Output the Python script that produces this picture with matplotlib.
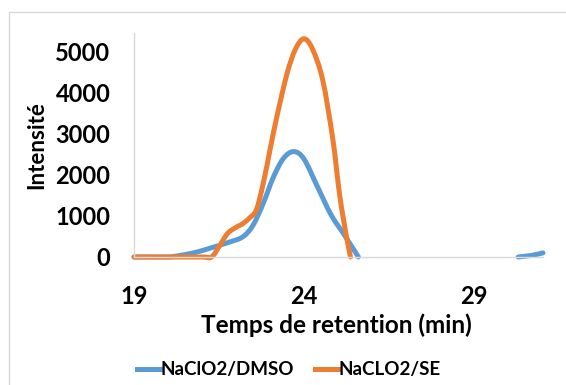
import matplotlib
matplotlib.use("Agg")
import numpy as np
from matplotlib import pyplot as plt
from matplotlib.patches import Rectangle, PathPatch
from matplotlib.path import Path
from matplotlib.lines import Line2D

# retention time (min) / intensity (nan = no data)
dmso_time = [19, 19.5, 20, 20.3, 20.8, 21.3, 21.8, 22.2, 22.5, 22.8, 23.1, 23.4,
             23.7, 24.0, 24.4, 24.8, 25.2, 25.6, 28, 30.3, 30.7, 31.03]
dmso_int = [0, 0, 0, 30, 110, 230, 360, 490, 770, 1300, 1940, 2400,
            2560, 2380, 1700, 1020, 520, 0, np.nan, 0, 40, 100]

se_time = [19, 20, 21, 21.28, 21.5, 21.75, 22.0, 22.2, 22.4, 22.6, 22.8, 23.0,
           23.2, 23.5, 23.75, 24.0, 24.25, 24.55, 24.85, 25.05, 25.25, 25.37]
se_int = [0, 0, 0, 0, 250, 570, 720, 810, 950, 1150, 1780, 2600,
          3400, 4450, 5050, 5300, 5050, 4300, 2850, 1500, 490, 0]

x_ticks = [19, 24, 29]
y_ticks = [0, 1000, 2000, 3000, 4000, 5000]


def smooth_path(ax, xs, ys):
    # Excel-like smoothed line: Catmull-Rom segments as cubic Bezier, in display space
    pts = ax.transData.transform(np.column_stack([xs, ys]))
    verts = [pts[0]]
    codes = [Path.MOVETO]
    n = len(pts)
    for i in range(n - 1):
        p0 = pts[max(i - 1, 0)]
        p1 = pts[i]
        p2 = pts[i + 1]
        p3 = pts[min(i + 2, n - 1)]
        c1 = p1 + (p2 - p0) / 6
        c2 = p2 - (p3 - p1) / 6
        verts += [c1, c2, p2]
        codes += [Path.CURVE4] * 3
    return Path(verts, codes)


def draw_series(ax, xs, ys, color):
    xs = np.asarray(xs, float)
    ys = np.asarray(ys, float)
    breaks = np.where(np.isnan(ys))[0]
    start = 0
    for b in list(breaks) + [len(ys)]:
        seg_x, seg_y = xs[start:b], ys[start:b]
        if len(seg_x) > 1:
            ax.add_patch(PathPatch(smooth_path(ax, seg_x, seg_y), transform=None, fill=False,
                                   edgecolor=color, linewidth=3.6, joinstyle='round',
                                   capstyle='round', clip_on=False))
        start = b + 1


plt.rcParams['font.family'] = ['Lato', 'DejaVu Sans']
plt.rcParams['font.weight'] = 'bold'

fig = plt.figure(figsize=(5.66, 3.85), dpi=100)
fig.patches.append(Rectangle((9 / 566, -0.1), 1.2, 1 - 12 / 385 + 0.1, transform=fig.transFigure,
                             fill=False, edgecolor='#d9d9d9', linewidth=1))
ax = fig.add_axes([134 / 566, 1 - 257 / 385, (543 - 134) / 566, (257 - 33) / 385])

ax.set_xlim(19, 31.03)
ax.set_ylim(0, 5440)
ax.set_xticks(x_ticks)
ax.set_yticks(y_ticks)
ax.tick_params(length=0, labelsize=17, pad=17)
ax.tick_params(axis='x', pad=20)
for lab in ax.get_xticklabels() + ax.get_yticklabels():
    lab.set_fontweight('bold')

for s in ['top', 'right']:
    ax.spines[s].set_visible(False)
for s in ['left', 'bottom']:
    ax.spines[s].set_color('#d9d9d9')
    ax.spines[s].set_linewidth(1)

draw_series(ax, dmso_time, dmso_int, '#5B9BD5')
draw_series(ax, se_time, se_int, '#ED7D31')

ax.set_xlabel('Temps de retention (min)', fontsize=17.5, fontweight='bold')
ax.set_ylabel('Intensité', fontsize=16, fontweight='bold')
ax.xaxis.set_label_coords(0.496, -0.25)
ax.yaxis.set_label_coords(-0.213, 0.5)

handles = [Line2D([], [], color='#5B9BD5', linewidth=3.6),
           Line2D([], [], color='#ED7D31', linewidth=3.6)]
ax.legend(handles, ['NaClO2/DMSO', 'NaCLO2/SE'], loc='center',
          bbox_to_anchor=(289 / 566, 1 - 370 / 385), bbox_transform=fig.transFigure,
          ncol=2, frameon=False, prop={'weight': 'bold', 'size': 13.5},
          handlelength=1.2, handletextpad=0.05, columnspacing=1.1)

fig.savefig('out.png', dpi=100)
